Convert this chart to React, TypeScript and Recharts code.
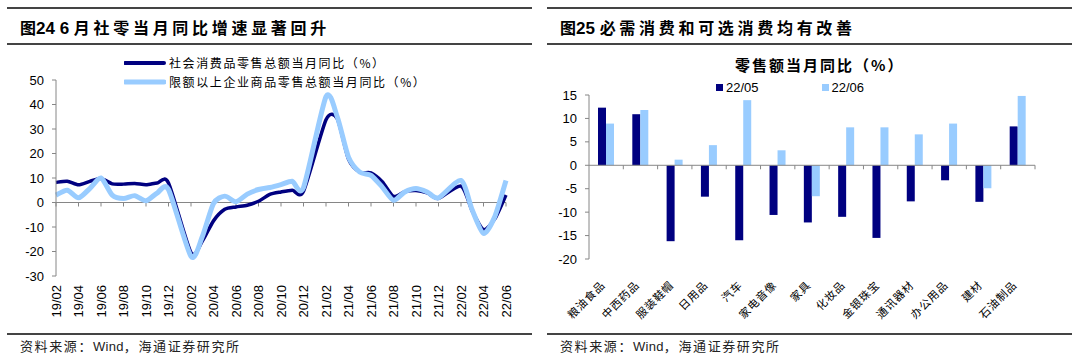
import React from 'react';
import { LineChart, Line, XAxis, YAxis, ReferenceLine, BarChart, Bar, Legend } from 'recharts';

const months = [
  '19/02','19/03','19/04','19/05','19/06','19/07','19/08','19/09','19/10','19/11','19/12',
  '20/01','20/02','20/03','20/04','20/05','20/06','20/07','20/08','20/09','20/10','20/11','20/12',
  '21/01','21/02','21/03','21/04','21/05','21/06','21/07','21/08','21/09','21/10','21/11','21/12',
  '22/01','22/02','22/03','22/04','22/05','22/06',
];
const retailYoY = [
  8.2, 8.7, 7.2, 8.6, 9.8, 7.6, 7.5, 7.8, 7.2, 8.0, 8.0,
  null, -20.5, -15.8, -7.5, -2.8, -1.8, -1.1, 0.5, 3.3, 4.3, 5.0, 4.6,
  null, 33.8, 34.2, 17.7, 12.4, 12.1, 8.5, 2.5, 4.4, 4.9, 3.9, 1.7,
  null, 6.7, -3.5, -11.1, -6.7, 3.1,
];
const aboveQuotaYoY = [
  3.0, 5.0, 1.9, 5.7, 10.0, 3.0, 1.6, 2.8, 0.7, 3.9, 5.3,
  null, -22.0, -14.0, -0.4, 2.6, 0.3, 3.4, 5.3, 6.1, 7.3, 8.7, 6.1,
  null, 43.2, 35.0, 18.5, 12.4, 11.1, 6.3, 0.9, 4.3, 5.7, 4.3, 1.9,
  null, 9.0, -3.1, -12.6, -5.8, 9.0,
];
const leftTicks = [-30, -20, -10, 0, 10, 20, 30, 40, 50];
const seriesNames = ['社会消费品零售总额当月同比（%）', '限额以上企业商品零售总额当月同比（%）'];

const categories = ['粮油食品','中西药品','服装鞋帽','日用品','汽车','家电音像','家具','化妆品','金银珠宝','通讯器材','办公用品','建材','石油制品'];
const may22 = [12.3, 10.9, -16.2, -6.7, -16.0, -10.6, -12.2, -11.0, -15.5, -7.7, -3.2, -7.8, 8.3];
const jun22 = [8.9, 11.8, 1.2, 4.3, 13.9, 3.2, -6.6, 8.1, 8.1, 6.6, 8.9, -4.9, 14.8];
const barNames = ['22/05', '22/06'];
const rightTicks = [-20, -15, -10, -5, 0, 5, 10, 15];

const NAVY = '#000080';
const LIGHT = '#99CCFF';
const AXIS = '#868686';
const LATIN = "'Liberation Sans', Arial, 'Noto Sans CJK SC', sans-serif";
const CJK = "'Noto Sans CJK SC', 'Liberation Sans', sans-serif";

const lineData = months.map((m, i) => ({ m, a: retailYoY[i], b: aboveQuotaYoY[i] }));
const barData = categories.map((c, i) => ({ c, may: may22[i], jun: jun22[i] }));

// Catmull-Rom style smoothing (similar to Excel's smoothed line), slightly tightened
const smoothCurve = (context: any) => {
  let pts: number[][] = [];
  return {
    areaStart() {},
    areaEnd() {},
    lineStart() { pts = []; },
    lineEnd() {
      if (!pts.length) return;
      context.moveTo(pts[0][0], pts[0][1]);
      const k = 0.12;
      for (let i = 0; i < pts.length - 1; i++) {
        const p0 = pts[i - 1] || pts[i];
        const p1 = pts[i];
        const p2 = pts[i + 1];
        const p3 = pts[i + 2] || pts[i + 1];
        context.bezierCurveTo(
          p1[0] + (p2[0] - p0[0]) * k, p1[1] + (p2[1] - p0[1]) * k,
          p2[0] - (p3[0] - p1[0]) * k, p2[1] - (p3[1] - p1[1]) * k,
          p2[0], p2[1]
        );
      }
    },
    point(x: number, y: number) { pts.push([+x, +y]); },
  };
};

const ZeroAxisLeft = (p: any) => {
  const { x1, x2, y1 } = p;
  const n = months.length;
  const step = (x2 - x1) / (n - 1);
  return (
    <g>
      <line x1={x1} x2={x2} y1={y1} y2={y1} stroke={AXIS} strokeWidth={1} />
      {months.map((m, i) =>
        i % 2 === 0 ? (
          <line key={m} x1={x1 + i * step} x2={x1 + i * step} y1={y1} y2={y1 + 4} stroke={AXIS} strokeWidth={1} />
        ) : null
      )}
    </g>
  );
};

const ZeroAxisRight = (p: any) => {
  const { x1, x2, y1 } = p;
  const n = categories.length;
  const step = (x2 - x1) / n;
  return (
    <g>
      <line x1={x1} x2={x2} y1={y1} y2={y1} stroke={AXIS} strokeWidth={1} />
      {categories.map((c, i) => (
        <line key={c} x1={x1 + (i + 1) * step} x2={x1 + (i + 1) * step} y1={y1} y2={y1 + 4} stroke={AXIS} strokeWidth={1} />
      ))}
    </g>
  );
};

const MonthTick = (p: any) => {
  const { x, y, payload } = p;
  const ay = y + 9;
  return (
    <text x={x} y={ay} transform={`rotate(-90, ${x}, ${ay})`} textAnchor="end" dy="0.35em"
      fontSize={13} fontFamily={LATIN} fill="#000">
      {payload.value}
    </text>
  );
};

const CatTick = (p: any) => {
  const { x, y, payload } = p;
  const ax = x - 3;
  const ay = y + 24;
  return (
    <text x={ax} y={ay} transform={`rotate(-45, ${ax}, ${ay})`} textAnchor="end" dy="0.35em"
      fontSize={11} fontFamily={CJK} fill="#000" letterSpacing={0.9}>
      {payload.value}
    </text>
  );
};

const LineLegend = () => (
  <div style={{ fontFamily: CJK, fontSize: 12, color: '#000' }}>
    {[NAVY, LIGHT].map((col, i) => (
      <div key={i} style={{ display: 'flex', alignItems: 'center', height: 19 }}>
        <svg width={42} height={8} style={{ marginRight: 3 }}>
          <line x1={1} x2={40} y1={4} y2={4} stroke={col} strokeWidth={i === 0 ? 4 : 5} strokeLinecap="round" />
        </svg>
        <span style={{ letterSpacing: 1.6, whiteSpace: 'nowrap' }}>{seriesNames[i]}</span>
      </div>
    ))}
  </div>
);

const BarLegend = () => (
  <div style={{ display: 'flex', fontFamily: LATIN, fontSize: 13, color: '#000', alignItems: 'center' }}>
    {[NAVY, LIGHT].map((col, i) => (
      <div key={i} style={{ display: 'flex', alignItems: 'center', marginRight: i === 0 ? 63 : 0 }}>
        <span style={{ display: 'inline-block', width: 7, height: 7, background: col, marginRight: 3 }} />
        <span>{barNames[i]}</span>
      </div>
    ))}
  </div>
);

const Title = ({ left, num, text }: { left: number; num: string; text: string }) => (
  <div style={{ position: 'absolute', left, top: 17, height: 20, lineHeight: '20px', whiteSpace: 'nowrap', color: '#000', fontWeight: 700 }}>
    <span style={{ fontFamily: CJK, fontSize: 16 }}>图</span>
    <span style={{ fontFamily: LATIN, fontSize: 17 }}>{num}</span>
    <span style={{ fontFamily: CJK, fontSize: 16, letterSpacing: 3.7 }}>{text}</span>
  </div>
);

const Footer = ({ left }: { left: number }) => (
  <div style={{ position: 'absolute', left, top: 337, lineHeight: '18px', whiteSpace: 'nowrap', fontFamily: CJK, fontSize: 13, letterSpacing: 1.6, color: '#222' }}>
    资料来源：<span style={{ fontFamily: LATIN, letterSpacing: 0.3 }}>Wind</span>，海通证券研究所
  </div>
);

const Rule = ({ left, top, width }: { left: number; top: number; width: number }) => (
  <div style={{ position: 'absolute', left, top, width, height: 1.5, background: '#444' }} />
);

export default function App() {
  return (
    <div style={{ position: 'relative', width: 1080, height: 356, background: '#fff', overflow: 'hidden' }}>
      <style>{'body{margin:0;}'}</style>
      <Rule left={7} top={7} width={525} />
      <Rule left={7} top={43} width={525} />
      <Rule left={7} top={333} width={525} />
      <Rule left={547} top={7} width={525} />
      <Rule left={547} top={43} width={525} />
      <Rule left={547} top={333} width={525} />
      <Title left={20} num="24 6 " text="月社零当月同比增速显著回升" />
      <Title left={560} num="25 " text="必需消费和可选消费均有改善" />
      <Footer left={20} />
      <Footer left={560} />

      <div style={{ position: 'absolute', left: 0, top: 0 }}>
        <LineChart width={540} height={330} data={lineData} margin={{ top: 80, right: 34, bottom: 10, left: 0 }}>
          <ReferenceLine y={0} shape={ZeroAxisLeft} ifOverflow="visible" />
          <XAxis dataKey="m" interval={1} axisLine={false} tickLine={false} tickSize={0} tickMargin={0} height={44} tick={MonthTick} />
          <YAxis domain={[-30, 50]} ticks={leftTicks} width={56} axisLine={{ stroke: AXIS }} tickLine={{ stroke: AXIS }} tickSize={4} tickMargin={8}
            tick={{ fontSize: 13, fontFamily: LATIN, fill: '#000' }} />
          <Legend layout="vertical" align="center" verticalAlign="middle" content={LineLegend}
            wrapperStyle={{ position: 'absolute', left: 124, top: 53, width: 330 }} />
          <Line dataKey="a" name={seriesNames[0]} type={smoothCurve as any} stroke={NAVY} strokeWidth={3.5} dot={false} connectNulls isAnimationActive={false} />
          <Line dataKey="b" name={seriesNames[1]} type={smoothCurve as any} stroke={LIGHT} strokeWidth={5} dot={false} connectNulls isAnimationActive={false} />
        </LineChart>
      </div>

      <div style={{ position: 'absolute', left: 735, top: 55, width: 156, textAlign: 'center', fontFamily: CJK, fontSize: 15, fontWeight: 700, letterSpacing: 2, whiteSpace: 'nowrap', lineHeight: '20px' }}>
        零售额当月同比（%）
      </div>

      <div style={{ position: 'absolute', left: 540, top: 0 }}>
        <BarChart width={540} height={330} data={barData} margin={{ top: 95, right: 45, bottom: 10, left: 0 }} barGap={0} barSize={8}>
          <ReferenceLine y={0} shape={ZeroAxisRight} ifOverflow="visible" />
          <XAxis dataKey="c" interval={0} axisLine={false} tickLine={false} tickSize={0} tickMargin={0} height={61} tick={CatTick} />
          <YAxis domain={[-20, 15]} ticks={rightTicks} width={49} axisLine={{ stroke: AXIS }} tickLine={{ stroke: AXIS }} tickSize={4} tickMargin={8}
            tick={{ fontSize: 13, fontFamily: LATIN, fill: '#000' }} />
          <Legend layout="vertical" align="center" verticalAlign="middle" content={BarLegend}
            wrapperStyle={{ position: 'absolute', left: 176, top: 80, width: 200 }} />
          <Bar dataKey="may" name={barNames[0]} fill={NAVY} isAnimationActive={false} />
          <Bar dataKey="jun" name={barNames[1]} fill={LIGHT} isAnimationActive={false} />
        </BarChart>
      </div>
    </div>
  );
}
